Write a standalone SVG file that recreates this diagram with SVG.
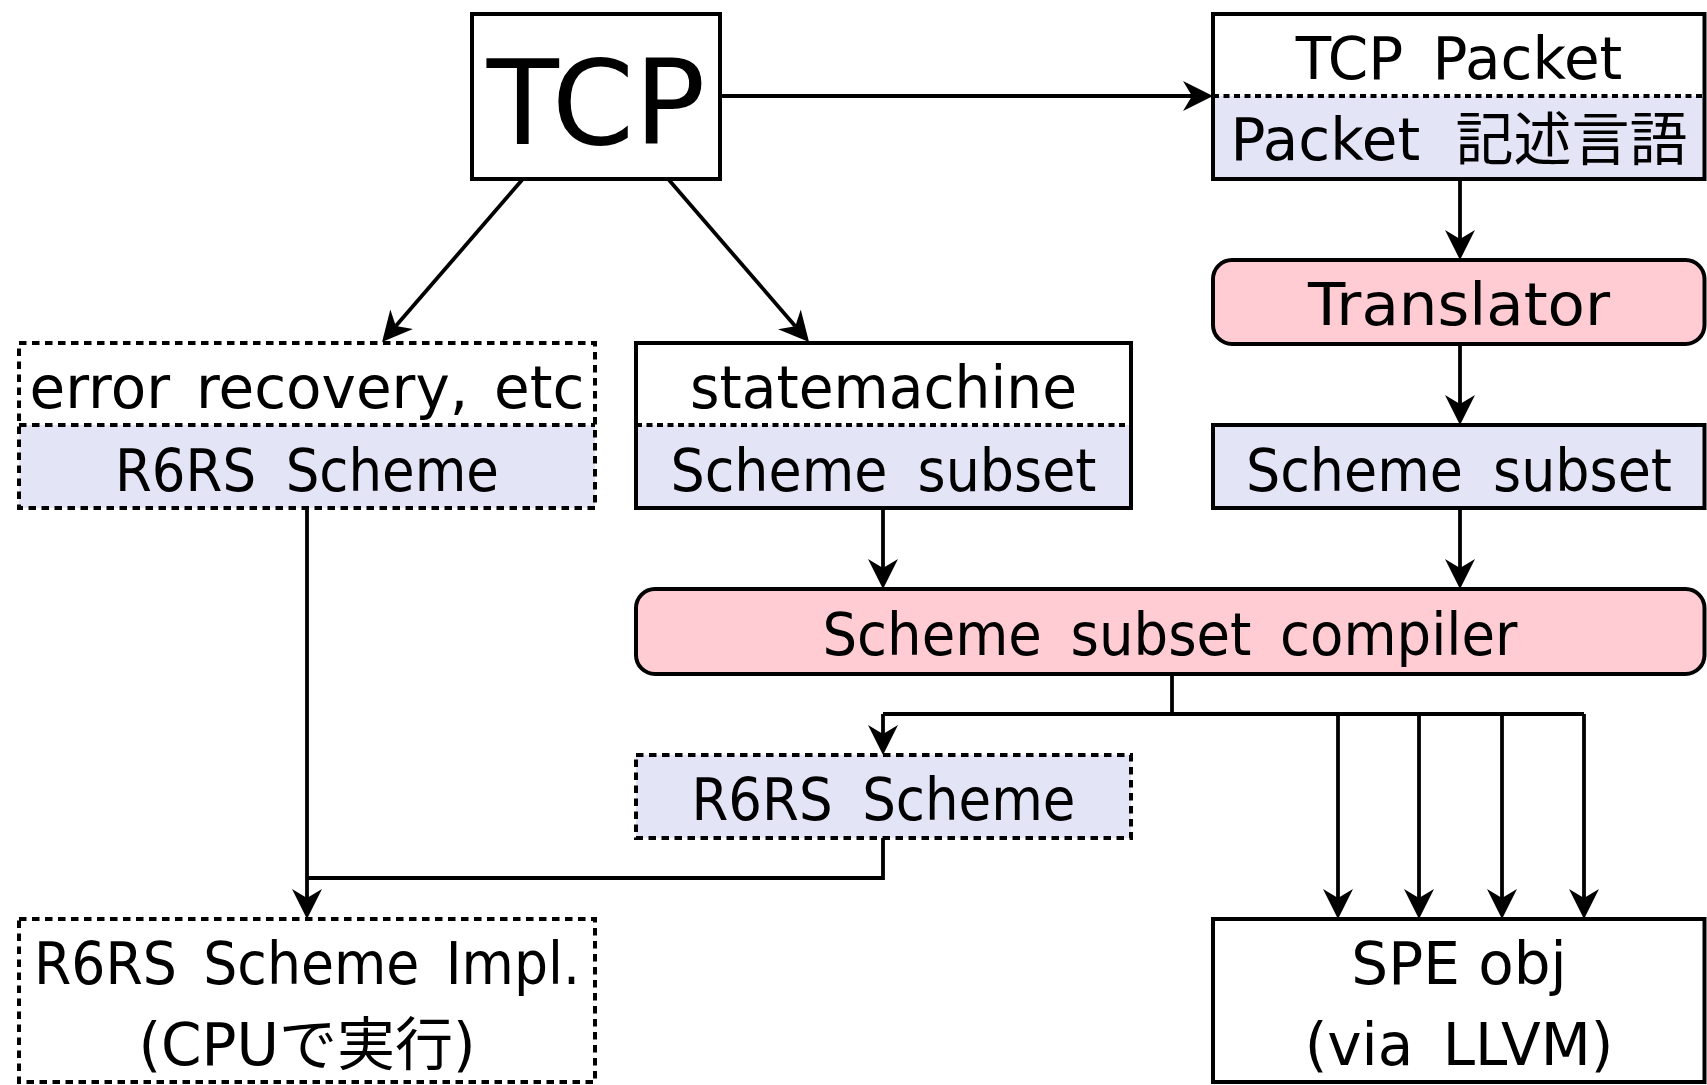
<svg xmlns="http://www.w3.org/2000/svg" width="1707" height="1085" viewBox="0 0 1707 1085">
  <style>
    .frame { fill: none; stroke: #000; stroke-width: 4; }
    .dashed { stroke-dasharray: 7.5 5.5; }
    .dotted { fill: none; stroke: #000; stroke-width: 4; stroke-dasharray: 6 4.5; }
    .lav { fill: #e4e4f7; stroke: none; }
    .pink { fill: #ffccd3; stroke: #000; stroke-width: 4; }
    .white { fill: #fff; }
    text { font-family: "DejaVu Sans", "Noto Sans CJK JP", sans-serif; font-size: 58px; text-anchor: middle; fill: #000; }
    .edge { fill: none; stroke: #000; stroke-width: 3.8; }
    .arrow { marker-end: url(#head); }
  </style>
  <defs>
    <marker id="head" viewBox="0 0 30 30" markerWidth="30" markerHeight="30" markerUnits="userSpaceOnUse" refX="9" refY="15" orient="auto">
      <path d="M30,15 L0,0 L9,15 L0,30 Z" fill="#000"/>
    </marker>
  </defs>

  <rect width="1707" height="1085" fill="#fff"/>

  <!-- connectors -->
  <g id="connectors">
    <path class="edge arrow" d="M720,96 H1192"/>
    <path class="edge arrow" d="M522,180 L395.8,326.1"/>
    <path class="edge arrow" d="M669,180 L795.3,326.2"/>
    <path class="edge arrow" d="M1460,179 V239"/>
    <path class="edge arrow" d="M1460,344 V404"/>
    <path class="edge arrow" d="M1460,508 V568"/>
    <path class="edge arrow" d="M883,508 V568"/>
    <path class="edge" d="M1172,674 V714"/>
    <path class="edge" d="M883,714 H1584"/>
    <path class="edge arrow" d="M883,714 V734"/>
    <path class="edge arrow" d="M1338,714 V898"/>
    <path class="edge arrow" d="M1419,714 V898"/>
    <path class="edge arrow" d="M1502,714 V898"/>
    <path class="edge arrow" d="M1584,714 V898"/>
    <path class="edge arrow" d="M307,508 V898"/>
    <path class="edge" d="M883,838 V878 H307"/>
  </g>

  <!-- TCP -->
  <g id="tcp">
    <rect class="frame white" x="472" y="14" width="248" height="165"/>
    <text x="596" y="144" style="font-size:118px">TCP</text>
  </g>

  <!-- TCP Packet / Packet description language -->
  <g id="tcp-packet">
    <rect class="white" x="1213" y="14" width="491.5" height="82"/>
    <rect class="lav" x="1213" y="96" width="491.5" height="83"/>
    <line class="dotted" x1="1213" y1="96" x2="1704.5" y2="96"/>
    <rect class="frame" x="1213" y="14" width="491.5" height="165"/>
    <text x="1459" y="78.5" word-spacing="11">TCP Packet</text>
    <text x="1459" y="160" word-spacing="17">Packet 記述言語</text>
  </g>

  <!-- Translator -->
  <g id="translator">
    <rect class="pink" x="1213" y="260" width="491.5" height="84" rx="19"/>
    <text x="1459" y="325" textLength="302" lengthAdjust="spacingAndGlyphs">Translator</text>
  </g>

  <!-- error recovery / R6RS Scheme -->
  <g id="error-recovery">
    <rect class="white" x="19" y="343" width="576" height="82"/>
    <rect class="lav" x="19" y="425" width="576" height="83"/>
    <line class="frame dashed" x1="19" y1="425" x2="595" y2="425"/>
    <rect class="frame dashed" x="19" y="343" width="576" height="165"/>
    <text x="307" y="408" word-spacing="7.5">error recovery, etc</text>
    <text x="307" y="491" word-spacing="14" textLength="384" lengthAdjust="spacingAndGlyphs">R6RS Scheme</text>
  </g>

  <!-- statemachine / Scheme subset -->
  <g id="statemachine">
    <rect class="white" x="636" y="343" width="495" height="82"/>
    <rect class="lav" x="636" y="425" width="495" height="83"/>
    <line class="dotted" x1="636" y1="425" x2="1131" y2="425"/>
    <rect class="frame" x="636" y="343" width="495" height="165"/>
    <text x="883.5" y="408" textLength="387" lengthAdjust="spacingAndGlyphs">statemachine</text>
    <text x="883.5" y="491" word-spacing="14" textLength="426" lengthAdjust="spacingAndGlyphs">Scheme subset</text>
  </g>

  <!-- Scheme subset (translated) -->
  <g id="scheme-subset">
    <rect class="lav" x="1213" y="425" width="491.5" height="83"/>
    <rect class="frame" x="1213" y="425" width="491.5" height="83"/>
    <text x="1459" y="491" word-spacing="14" textLength="426" lengthAdjust="spacingAndGlyphs">Scheme subset</text>
  </g>

  <!-- compiler -->
  <g id="compiler">
    <rect class="pink" x="636" y="589" width="1068.5" height="85" rx="19"/>
    <text x="1170" y="655" word-spacing="12" textLength="695" lengthAdjust="spacingAndGlyphs">Scheme subset compiler</text>
  </g>

  <!-- R6RS Scheme output -->
  <g id="r6rs-out">
    <rect class="lav" x="636" y="755" width="495" height="83"/>
    <rect class="frame dashed" x="636" y="755" width="495" height="83"/>
    <text x="883.5" y="820" word-spacing="14" textLength="384" lengthAdjust="spacingAndGlyphs">R6RS Scheme</text>
  </g>

  <!-- R6RS Scheme implementation -->
  <g id="r6rs-impl">
    <rect class="frame dashed" x="19" y="919" width="576" height="163"/>
    <text x="307" y="984" word-spacing="10" textLength="546" lengthAdjust="spacingAndGlyphs">R6RS Scheme Impl.</text>
    <text x="307" y="1065">(CPUで実行)</text>
  </g>

  <!-- SPE object -->
  <g id="spe-obj">
    <rect class="frame" x="1213" y="919" width="491.5" height="163"/>
    <text x="1459" y="984">SPE obj</text>
    <text x="1459" y="1065" word-spacing="11">(via LLVM)</text>
  </g>
</svg>
